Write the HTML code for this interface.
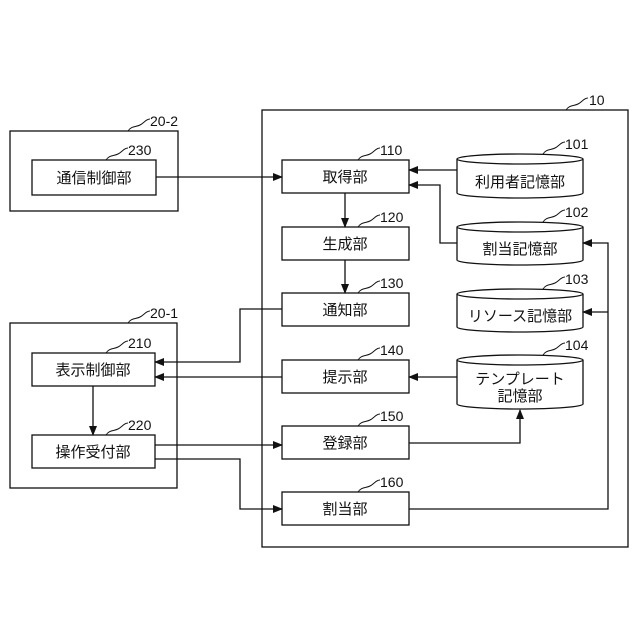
<!DOCTYPE html>
<html><head><meta charset="utf-8"><style>
html,body{margin:0;padding:0;background:#fff;}
svg{display:block;}
text{font-family:"Liberation Sans","Noto Sans CJK JP",sans-serif;fill:#111;}
</style></head><body>
<svg width="640" height="640" viewBox="0 0 640 640" xmlns="http://www.w3.org/2000/svg">
<defs><marker id="a" markerWidth="10" markerHeight="8" refX="9" refY="4" orient="auto" markerUnits="userSpaceOnUse"><path d="M0,0 L10,4 L0,8 z" fill="#111"/></marker></defs>
<g fill="none" stroke="#111" stroke-width="1.3">
<rect x="262" y="110" width="366" height="437"/>
<rect x="10" y="131" width="168" height="80"/>
<rect x="32" y="160" width="124" height="35"/>
<rect x="10" y="323" width="167" height="165"/>
<rect x="32" y="353" width="123" height="33"/>
<rect x="32" y="435" width="123" height="33"/>
<rect x="282" y="160" width="127" height="33"/>
<rect x="282" y="227" width="127" height="33"/>
<rect x="282" y="293" width="127" height="33"/>
<rect x="282" y="360" width="127" height="33"/>
<rect x="282" y="426" width="127" height="33"/>
<rect x="282" y="492" width="127" height="33"/>
<!-- cylinders -->
<path d="M457,159 v34 a63,5 0 0 0 126,0 v-34"/><ellipse cx="520" cy="159" rx="63" ry="5"/>
<path d="M457,227 v33 a63,5 0 0 0 126,0 v-33"/><ellipse cx="520" cy="227" rx="63" ry="5"/>
<path d="M457,294 v33 a63,5 0 0 0 126,0 v-33"/><ellipse cx="520" cy="294" rx="63" ry="5"/>
<path d="M457,360 v44 a63,5 0 0 0 126,0 v-44"/><ellipse cx="520" cy="360" rx="63" ry="5"/>
<!-- connectors -->
<path d="M156,177 H282" marker-end="url(#a)"/>
<path d="M457,170 H409" marker-end="url(#a)"/>
<path d="M457,243 H440 V185 H409" marker-end="url(#a)"/>
<path d="M345,193 V227" marker-end="url(#a)"/>
<path d="M345,260 V293" marker-end="url(#a)"/>
<path d="M409,509 H608 V243 H583" marker-end="url(#a)"/>
<path d="M608,312 H583" marker-end="url(#a)"/>
<path d="M282,309 H240 V362 H155" marker-end="url(#a)"/>
<path d="M282,377 H155" marker-end="url(#a)"/>
<path d="M457,377 H409" marker-end="url(#a)"/>
<path d="M93,386 V435" marker-end="url(#a)"/>
<path d="M155,445 H282" marker-end="url(#a)"/>
<path d="M155,459 H240 V509 H282" marker-end="url(#a)"/>
<path d="M409,443 H520 V410" marker-end="url(#a)"/>
<!-- leaders -->
<g stroke-width="1">
<path d="M566,110 c3,-5 8,-4 12,-6 s6,-6 10,-6"/>
<path d="M128,131 c3,-5 8,-4 12,-6 s6,-6 10,-6"/>
<path d="M106,160 c3,-5 8,-4 12,-6 s6,-6 10,-6"/>
<path d="M358,160 c3,-5 8,-4 12,-6 s6,-6 10,-6"/>
<path d="M358,227 c3,-5 8,-4 12,-6 s6,-6 10,-6"/>
<path d="M358,293 c3,-5 8,-4 12,-6 s6,-6 10,-6"/>
<path d="M358,360 c3,-5 8,-4 12,-6 s6,-6 10,-6"/>
<path d="M358,426 c3,-5 8,-4 12,-6 s6,-6 10,-6"/>
<path d="M358,492 c3,-5 8,-4 12,-6 s6,-6 10,-6"/>
<path d="M128,323 c3,-5 8,-4 12,-6 s6,-6 10,-6"/>
<path d="M106,353 c3,-5 8,-4 12,-6 s6,-6 10,-6"/>
<path d="M106,435 c3,-5 8,-4 12,-6 s6,-6 10,-6"/>
<path d="M543,154 c3,-5 8,-4 12,-6 s6,-6 10,-6"/>
<path d="M543,222 c3,-5 8,-4 12,-6 s6,-6 10,-6"/>
<path d="M543,289 c3,-5 8,-4 12,-6 s6,-6 10,-6"/>
<path d="M543,355 c3,-5 8,-4 12,-6 s6,-6 10,-6"/>
</g>
</g>
<g font-size="15" text-anchor="middle">
<text x="94" y="183">通信制御部</text>
<text x="93" y="375">表示制御部</text>
<text x="93" y="457">操作受付部</text>
<text x="345" y="182">取得部</text>
<text x="345" y="249">生成部</text>
<text x="345" y="315">通知部</text>
<text x="345" y="382">提示部</text>
<text x="345" y="448">登録部</text>
<text x="345" y="514">割当部</text>
<text x="520" y="187">利用者記憶部</text>
<text x="520" y="254">割当記憶部</text>
<text x="520" y="321">リソース記憶部</text>
<text x="520" y="384">テンプレート</text>
<text x="520" y="401">記憶部</text>
</g>
<g font-size="14">
<text x="589" y="105">10</text>
<text x="150" y="126">20-2</text>
<text x="128" y="155">230</text>
<text x="380" y="155">110</text>
<text x="380" y="222">120</text>
<text x="380" y="288">130</text>
<text x="380" y="355">140</text>
<text x="380" y="421">150</text>
<text x="380" y="487">160</text>
<text x="150" y="318">20-1</text>
<text x="128" y="348">210</text>
<text x="128" y="430">220</text>
<text x="565" y="149">101</text>
<text x="565" y="217">102</text>
<text x="565" y="284">103</text>
<text x="565" y="350">104</text>
</g>
</svg>
</body></html>
